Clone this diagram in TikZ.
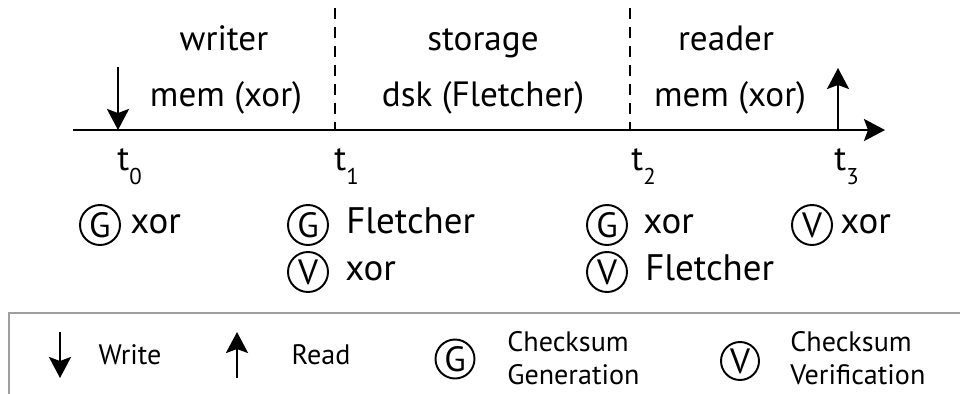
\documentclass[tikz,border=0pt]{standalone}
\usepackage{fontspec}
\setmainfont{PT Sans}
\usetikzlibrary{arrows.meta, positioning}
\newcommand{\tsub}[1]{t\raisebox{-0.42em}{\fontsize{13}{13}\selectfont #1}}

\begin{document}
\begin{tikzpicture}[x=0.02cm, y=-0.02cm,
  lbl/.style={font=\fontsize{20}{24}\selectfont, inner sep=0pt},
  row/.style={font=\fontsize{21}{24}\selectfont, inner sep=0pt, anchor=base west},
  leg/.style={font=\fontsize{16}{19}\selectfont, inner sep=0pt, align=left},
  chk/.style={circle, draw, line width=1.1pt, minimum size=0.8cm, inner sep=0pt, font=\fontsize{20}{20}\selectfont},
  evt/.style={-{Stealth[length=0.42cm, width=0.44cm, inset=0.08cm]}, line width=1.6pt},
  bnd/.style={dash pattern=on 0.22cm off 0.16cm, line width=1.1pt}]
  \useasboundingbox (0,0) rectangle (960,393);
  \clip (0,0) rectangle (960,393);

  % time axis
  \coordinate (ax0) at (73,130);
  \coordinate (ax1) at (885,130);
  \draw[evt] (ax0) -- (ax1);

  % phase boundaries
  \coordinate (b1top) at (335,8);
  \coordinate (b1) at (335,130);
  \coordinate (b2top) at (630,8);
  \coordinate (b2) at (630,130);
  \draw[bnd] (b1top) -- (b1);
  \draw[bnd] (b2top) -- (b2);

  % write and read events
  \coordinate (wtop) at (118,67);
  \coordinate (w0) at (118,130);
  \coordinate (rtop) at (838,68);
  \coordinate (r0) at (838,130);
  \draw[evt] (wtop) -- (w0);
  \draw[evt] (r0) -- (rtop);

  \node[lbl, anchor=base west] (t0) at (117,170) {\tsub{0}};
  \node[lbl, anchor=base west] (t1) at (334,170) {\tsub{1}};
  \node[lbl, anchor=base west] (t2) at (631,170) {\tsub{2}};
  \node[lbl, anchor=base west] (t3) at (834,170) {\tsub{3}};

  \node[lbl, anchor=base] (writer) at (224,50) {writer};
  \node[lbl, anchor=base] (storage) at (483,50) {storage};
  \node[lbl, anchor=base] (reader) at (726,50) {reader};
  \node[lbl, anchor=base] (wmem) at (226,106) {mem (xor)};
  \node[lbl, anchor=base] (sdsk) at (483,106) {dsk (Fletcher)};
  \node[lbl, anchor=base] (rmem) at (730,106) {mem (xor)};

  % checksums per phase
  \node[chk] (g0) at (100,225) {G};
  \node[row] (g0txt) at (130,233) {xor};
  \node[chk] (g1) at (308,225) {G};
  \node[row] (g1txt) at (346,233) {Fletcher};
  \node[chk] (v1) at (308,272) {V};
  \node[row] (v1txt) at (345,280) {xor};
  \node[chk] (g2) at (607,225) {G};
  \node[row] (g2txt) at (643,233) {xor};
  \node[chk] (v2) at (607,272) {V};
  \node[row] (v2txt) at (645,280) {Fletcher};
  \node[chk] (v3) at (812,225) {V};
  \node[row] (v3txt) at (840,233) {xor};

  % legend
  \draw[gray!75, line width=1pt] (975,313) -- (9,313) -- (9,400);
  \coordinate (lwtop) at (60,332);
  \coordinate (lwbot) at (60,378);
  \draw[evt] (lwtop) -- (lwbot);
  \node[leg, anchor=base] (lwrite) at (130,364) {Write};
  \coordinate (lrtop) at (237,332);
  \coordinate (lrbot) at (237,378);
  \draw[evt] (lrbot) -- (lrtop);
  \node[leg, anchor=base] (lread) at (321,364) {Read};
  \node[chk, minimum size=0.78cm] (lg) at (455,359) {G};
  \node[leg, anchor=west] (lgtxt) at (507,358) {Checksum\\Generation};
  \node[chk, minimum size=0.76cm] (lv) at (740,361) {V};
  \node[leg, anchor=west] (lvtxt) at (790,358) {Checksum\\Verification};
\end{tikzpicture}
\end{document}
